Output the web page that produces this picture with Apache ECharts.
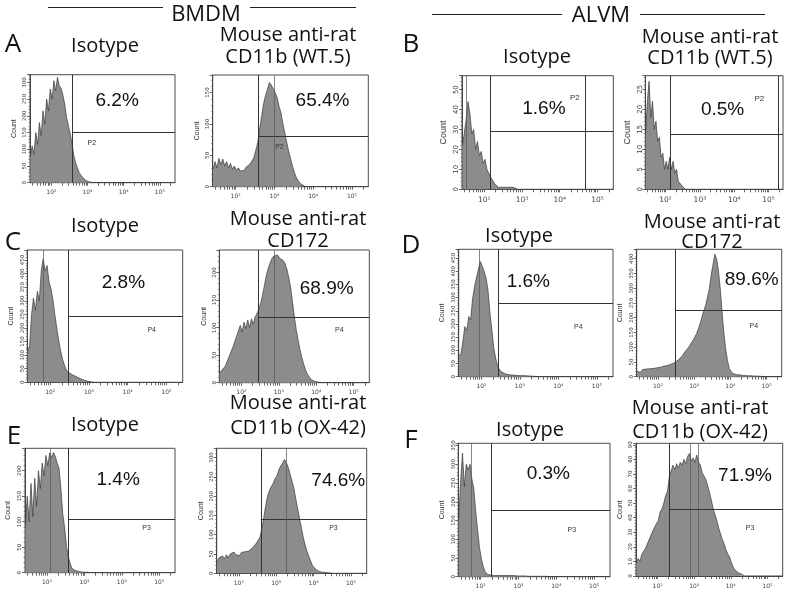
<!DOCTYPE html>
<html><head><meta charset="utf-8">
<script src="https://cdn.jsdelivr.net/npm/echarts@6/dist/echarts.min.js"></script>
<style>html,body{margin:0;padding:0;background:#fff}#c{width:796px;height:598px}</style>
</head><body><div id="c"></div>
<script>
// log10 fluorescence bin centres (0.05 decade bins)
const BINS = [1.42,1.47,1.52,1.57,1.62,1.67,1.72,1.77,1.82,1.87,1.92,1.97,2.02,2.07,2.12,2.17,2.22,2.27,2.32,2.37,2.42,2.47,2.52,2.57,2.62,2.67,2.72,2.77,2.82,2.87,2.92,2.97,3.02,3.07,3.12,3.17,3.22,3.27,3.32,3.37,3.42,3.47,3.52,3.57,3.62,3.67,3.72,3.77,3.82,3.87,3.92,3.97,4.02,4.07,4.12,4.17,4.22,4.27,4.32,4.37,4.42,4.47,4.52,4.57,4.62,4.67,4.72,4.77,4.82,4.87,4.92,4.97];

// counts per bin
const A_ISO   = [80,110,85,150,115,180,140,215,175,250,215,280,250,305,275,315,290,282,262,235,195,172,148,118,82,60,45,30,22,15,10,6,4,2,1,0];
const A_WT5   = [28,40,30,45,35,44,33,40,30,37,28,33,26,30,25,28,26,31,30,36,38,46,58,70,92,112,132,145,155,166,162,156,150,142,128,118,100,85,70,56,44,32,22,14,9,5,3,1,0];
const B_ISO   = [22,28,35,44,38,28,30,20,24,17,19,13,15,10,11,6,7,3,4,1,2,1,2,1,2,1,2,1,1,0];
const B_WT5   = [14,22,27,18,22,15,17,12,13,8,9,5,7,5,8,5,7,4,5,2,2,1,1,0];
const C_ISO   = [115,135,250,310,265,335,300,410,455,410,430,370,345,305,250,200,155,115,85,62,45,37,32,28,25,21,18,14,10,8,6,4,2,1,0];
const C_CD172 = [17,22,20,30,33,47,50,64,66,84,85,104,92,110,98,114,100,116,106,120,126,134,145,160,178,196,208,218,226,230,228,232,226,225,222,216,205,190,172,145,118,95,76,59,45,33,22,15,10,6,4,2,1,1,0];
const D_ISO   = [78,88,135,190,175,228,215,295,340,375,405,437,420,400,375,330,245,180,110,70,42,27,19,14,11,9,7,6,6,5,5,5,4,4,4,3,3,3,2,2,1,0];
const D_CD172 = [18,22,15,24,18,26,20,27,22,28,24,30,26,32,30,36,33,38,40,43,45,48,52,58,64,70,80,88,96,104,115,124,135,147,165,182,205,225,243,270,300,345,380,415,400,360,300,220,150,95,55,28,18,11,9,7,6,6,5,4,4,3,3,3,2,2,2,2,1,1,1,0];
const E_ISO   = [90,150,100,175,110,185,130,200,165,215,190,230,210,235,225,236,228,215,205,165,115,88,51,31,17,8,5,4,3,2,2,1,1,1,0];
const E_OX42  = [28,40,35,45,38,48,40,50,45,55,48,52,46,54,50,56,54,58,60,66,72,78,86,95,118,145,175,200,215,225,233,245,252,268,278,285,295,288,275,258,240,222,195,170,145,120,95,75,58,45,32,20,14,10,6,4,3,2,2,1,1,0];
const F_ISO   = [150,250,330,240,300,285,300,260,235,175,125,78,48,27,13,7,5,4,4,3,4,3,4,3,3,3,2,3,2,3,2,2,2,2,2,2,2,1,2,1,1,1,1,1,1,1,1,1,0];
const F_OX42  = [9,12,10,15,14,19,18,25,24,31,30,36,38,44,46,50,55,58,68,72,76,73,77,74,78,76,80,77,82,84,79,81,78,83,78,76,71,70,66,62,57,52,46,42,38,33,29,25,22,18,15,13,9,6,4,3,2,1,1,0];

const HISTS = [A_ISO, A_WT5, B_ISO, B_WT5, C_ISO, C_CD172, D_ISO, D_CD172, E_ISO, E_OX42, F_ISO, F_OX42];

// axis ranges
const X_MIN = 1.41, X_MAX = 5.42;
const X_TICK_LABELS = [2, 3, 4, 5];
const Y_MAX  = [323, 178, 57, 28.4, 487, 241, 483, 432, 244, 324, 356, 91];
const Y_STEP = [50, 50, 10, 5, 50, 50, 50, 50, 50, 50, 50, 10];

// gates
const GATE_X = [2.58, 2.585, 2.16, 2.13, 2.47, 2.46, 2.43, 2.48, 2.57, 2.59, 2.28, 2.32];
const GATE_Y = [152, 81, 29, 13.8, 244, 119, 279, 226, 105, 141, 178, 45.7];
const GATE_X2 = [null, null, 4.67, 5.28, null, null, null, null, null, null, null, null];
const GATE_NAME = ['P2','P2','P2','P2','P4','P4','P4','P4','P3','P3','P3','P3'];
const PCT = ['6.2%','65.4%','1.6%','0.5%','2.8%','68.9%','1.6%','89.6%','1.4%','74.6%','0.3%','71.9%'];
// saturated single-bin spikes
const SPIKES = [[], [2.99], [1.53], [], [1.81], [2.87], [1.95], [], [2.08], [3.26], [1.74], [2.89, 3.11]];

// label anchor points (data space)
const PCT_X = [3.82, 4.24, 3.58, 3.66, 3.89, 4.28, 3.22, 4.59, 3.90, 4.66, 3.79, 4.39];
const PCT_Y = [245, 137, 40.6, 20, 367, 171, 360, 328, 182, 239, 276, 69];
const GN_X  = [3.12, 3.13, 4.40, 4.73, 4.62, 4.62, 4.52, 4.65, 4.66, 4.53, 4.41, 4.53];
const GN_Y  = [119, 63, 45.7, 22.75, 193, 96, 190, 172, 87, 117, 125, 32.7];

// panel boxes (pixels)
const LAYOUT = [
  {l:30, t:74.7, w:145, h:108, big:false, ng:12},
  {l:212.7, t:75, w:155.6, h:111.7, big:false, ng:12},
  {l:462, t:75.7, w:151.3, h:113.6, big:true, ng:14},
  {l:645.3, t:75.7, w:137.7, h:113.6, big:true, ng:13},
  {l:27.3, t:250, w:155.4, h:132.3, big:false, ng:13},
  {l:219.3, t:250, w:150, h:132.7, big:false, ng:12},
  {l:458.7, t:249.3, w:154.3, h:127.4, big:false, ng:13},
  {l:636.7, t:249.3, w:145, h:127.4, big:false, ng:13},
  {l:25, t:448.3, w:150, h:124.4, big:false, ng:13},
  {l:216.7, t:448.3, w:150, h:125, big:false, ng:12},
  {l:458.3, t:443.3, w:151.7, h:133.4, big:false, ng:13},
  {l:636, t:443.3, w:146.7, h:132.7, big:false, ng:12}
];

const SUP = {2:'\u00b2', 3:'\u00b3', 4:'\u2074', 5:'\u2075'};
const MINOR = [];
for (let n = 1; n <= 5; n++) for (let k = 1; k <= 9; k++) {
  const v = n + Math.log10(k);
  if (v >= X_MIN && v <= X_MAX) MINOR.push(+v.toFixed(4));
}

const grid = [], xAxis = [], yAxis = [], series = [];
LAYOUT.forEach((L, i) => {
  const fs = L.big ? 7 : 5.5;
  grid.push({left:L.l, top:L.t, width:L.w, height:L.h, show:true, borderColor:'#4a4a4a', borderWidth:1, backgroundColor:'transparent'});
  xAxis.push({
    gridIndex:i, type:'value', min:X_MIN, max:X_MAX,
    axisLine:{show:true, lineStyle:{color:'#444', width:1}},
    axisTick:{show:true, customValues:MINOR, length:3, lineStyle:{color:'#444', width:0.8}},
    axisLabel:{customValues:X_TICK_LABELS, formatter:v => '10' + SUP[Math.round(v)], fontSize:fs+0.5, color:'#444', margin:7, fontFamily:'DejaVu Sans'},
    splitLine:{show:false}
  });
  yAxis.push({
    gridIndex:i, type:'value', min:0, max:Y_MAX[i], interval:Y_STEP[i],
    name:'Count', nameLocation:'middle', nameGap:L.ng, nameRotate:90,
    nameTextStyle:{fontSize:L.big ? 9 : 7, color:'#333', fontFamily:'Liberation Sans'},
    axisLine:{show:true, lineStyle:{color:'#444', width:1}},
    axisTick:{show:true, length:3, lineStyle:{color:'#444', width:0.8}},
    minorTick:{show:true, splitNumber:5, length:1.5, lineStyle:{color:'#555', width:0.6}},
    axisLabel:{rotate:90, fontSize:fs, color:'#444', margin:2, showMaxLabel:false, fontFamily:'DejaVu Sans'},
    splitLine:{show:false}
  });
  const ml = [
    [{coord:[GATE_X[i], 0]}, {coord:[GATE_X[i], Y_MAX[i]]}],
    [{coord:[GATE_X[i], GATE_Y[i]]}, {coord:[X_MAX, GATE_Y[i]]}]
  ];
  if (GATE_X2[i] !== null) ml.push([{coord:[GATE_X2[i], 0]}, {coord:[GATE_X2[i], Y_MAX[i]]}]);
  SPIKES[i].forEach(s => ml.push([{coord:[s, 0], lineStyle:{color:'#555', width:0.7}}, {coord:[s, Y_MAX[i]]}]));
  series.push({
    type:'line', xAxisIndex:i, yAxisIndex:i, silent:true, animation:false,
    data: HISTS[i].map((v, j) => [BINS[j], v]),
    symbol:'none', showSymbol:false,
    lineStyle:{color:'#3a3a3a', width:0.7},
    areaStyle:{color:'#8c8c8c', opacity:1},
    markLine:{silent:true, symbol:'none', animation:false, label:{show:false},
      lineStyle:{color:'#333', width:1, type:'solid'}, data:ml},
    markPoint:{silent:true, animation:false, symbol:'rect', symbolSize:0, data:[
      {coord:[PCT_X[i], PCT_Y[i]], label:{show:true, position:'inside', formatter:PCT[i], fontSize:19, color:'#111', fontFamily:'Liberation Sans'}},
      {coord:[GN_X[i], GN_Y[i]], label:{show:true, position:'inside', formatter:GATE_NAME[i], fontSize:L.big ? 8 : 7, color:'#333', fontFamily:'Liberation Sans'}}
    ]}
  });
});

function T(text, x, y, size, family) {
  return {type:'text', x:x, y:y, silent:true, style:{text:text, fill:'#111', fontSize:size, fontFamily:family || 'Open Sans', textAlign:'center', textVerticalAlign:'middle'}};
}
function Ln(x1, y1, x2, y2) {
  return {type:'line', silent:true, shape:{x1:x1, y1:y1, x2:x2, y2:y2}, style:{stroke:'#222', lineWidth:1}};
}
const TS = 20;
const graphic = [
  Ln(48, 7.5, 163, 7.5), Ln(250, 7.5, 356, 7.5), T('BMDM', 206, 15, 22),
  Ln(432, 14.5, 562, 14.5), Ln(640, 14.5, 765, 14.5), T('ALVM', 601, 16, 22),
  T('A', 13, 45, 26), T('B', 411, 45, 26), T('C', 13, 243, 26), T('D', 411, 246, 26), T('E', 14, 437, 26), T('F', 411, 441, 26),
  T('Isotype', 105, 46, TS),
  T('Mouse anti-rat', 288, 35, TS), T('CD11b (WT.5)', 288, 57, TS),
  T('Isotype', 537, 57, TS),
  T('Mouse anti-rat', 710, 37, TS), T('CD11b (WT.5)', 710, 58, TS),
  T('Isotype', 105, 226, TS),
  T('Mouse anti-rat', 298, 219, TS), T('CD172', 298, 241, TS),
  T('Isotype', 519, 236, TS),
  T('Mouse anti-rat', 712, 222, TS), T('CD172', 712, 242, TS),
  T('Isotype', 105, 425, TS),
  T('Mouse anti-rat', 298, 403, TS), T('CD11b (OX-42)', 298, 428, TS),
  T('Isotype', 530, 430, TS),
  T('Mouse anti-rat', 700, 408, TS), T('CD11b (OX-42)', 700, 432, TS)
];

const chart = echarts.init(document.getElementById('c'), null, {renderer:'canvas'});
chart.setOption({animation:false, backgroundColor:'#fff', grid:grid, xAxis:xAxis, yAxis:yAxis, series:series, graphic:graphic});
</script>
</body></html>
